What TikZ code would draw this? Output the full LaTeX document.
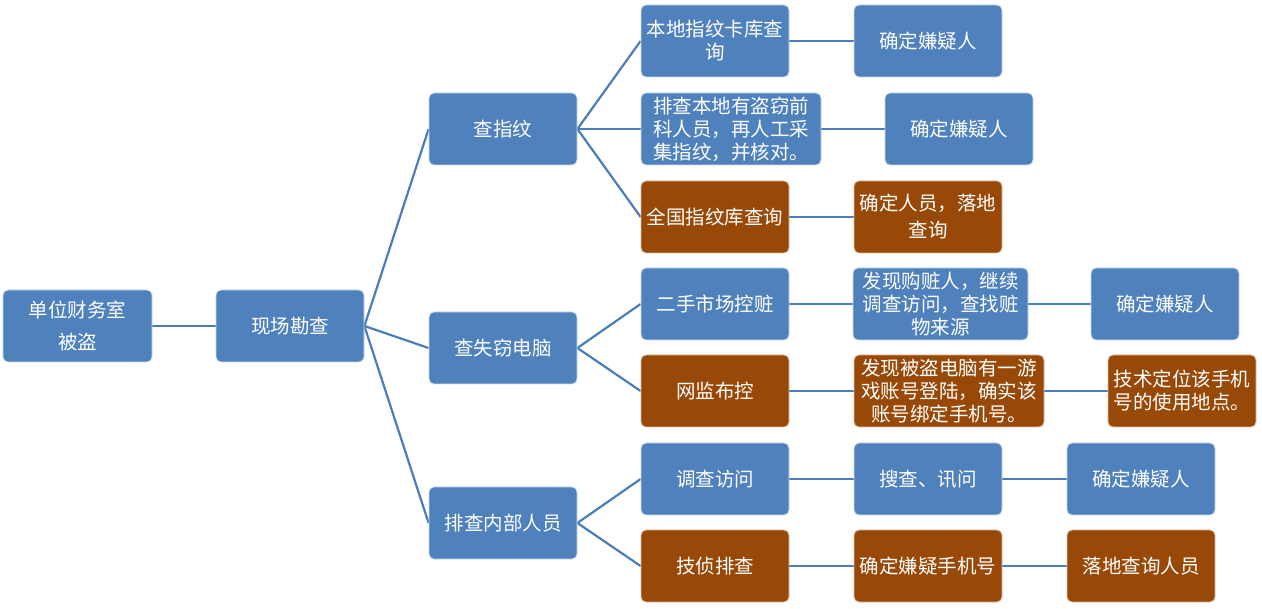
\documentclass[tikz,border=0pt]{standalone}
\usepackage{fontspec}
\setmainfont{Noto Sans CJK SC}
\usepackage{tikz}
\usetikzlibrary{backgrounds}
\usepackage{xcolor}
\definecolor{boxblue}{HTML}{4F81BD}
\definecolor{boxbrown}{HTML}{984807}
\definecolor{linkblue}{HTML}{4A7EBB}
\tikzstyle{tree}=[
  x=1pt,y=-1pt,font=\fontsize{19.5}{23}\selectfont
]
\tikzstyle{stepnode}=[
  draw=white!70!boxblue,line width=0.8pt,rounded corners=5pt,fill=boxblue,text=white,
  minimum width=148pt,minimum height=72pt,inner sep=0pt,align=center
]
\tikzstyle{leadnode}=[
  stepnode,fill=boxbrown,draw=white!65!boxbrown
]
\tikzstyle{link}=[
  line width=2.2pt,draw=linkblue
]

\begin{document}
\begin{tikzpicture}[tree]
  \useasboundingbox (0,0) rectangle (1262,609);
  % root and scene
  \node (root) at (77.5,326) [stepnode,minimum width=149pt,font=\fontsize{19.5}{32}\selectfont] {单位财务室\\被盗};
  \node (scene) at (290,326) [stepnode] {现场勘查};
  % three lines of inquiry
  \node (fp) at (503,129) [stepnode] {查指纹};
  \node (pc) at (503,348) [stepnode] {查失窃电脑};
  \node (staff) at (503,523) [stepnode] {排查内部人员};
  % fingerprints
  \node (fpa) at (715,41) [stepnode] {本地指纹卡库查\\询};
  \node (fpb) at (731,129) [stepnode,minimum width=180pt] {排查本地有盗窃前\\科人员，再人工采\\集指纹，并核对。};
  \node (fpc) at (715,217) [leadnode] {全国指纹库查询};
  \node (fpa2) at (928,41) [stepnode] {确定嫌疑人};
  \node (fpb2) at (959,129) [stepnode] {确定嫌疑人};
  \node (fpc2) at (928,217) [leadnode,font=\fontsize{19.5}{27}\selectfont] {确定人员，落地\\查询};
  % stolen computer
  \node (pca) at (715,304) [stepnode] {二手市场控赃};
  \node (pcb) at (715,391) [leadnode] {网监布控};
  \node (pca2) at (940.5,304) [stepnode,minimum width=175pt] {发现购赃人，继续\\调查访问，查找赃\\物来源};
  \node (pcb2) at (949,391) [leadnode,minimum width=190pt] {发现被盗电脑有一游\\戏账号登陆，确实该\\账号绑定手机号。};
  \node (pca3) at (1165,304) [stepnode] {确定嫌疑人};
  \node (pcb3) at (1182,391) [leadnode] {技术定位该手机\\号的使用地点。};
  % internal staff
  \node (sta) at (715,479) [stepnode] {调查访问};
  \node (stb) at (715,566) [leadnode] {技侦排查};
  \node (sta2) at (928,479) [stepnode] {搜查、讯问};
  \node (stb2) at (928,566) [leadnode] {确定嫌疑手机号};
  \node (sta3) at (1141,479) [stepnode] {确定嫌疑人};
  \node (stb3) at (1141,566) [leadnode] {落地查询人员};
  \begin{scope}[on background layer]
    \draw [link] (root.east) -- (scene.west);
    \draw [link] (scene.east) -- (fp.west);
    \draw [link] (scene.east) -- (pc.west);
    \draw [link] (scene.east) -- (staff.west);
    \draw [link] (fp.east) -- (fpa.west);
    \draw [link] (fp.east) -- (fpb.west);
    \draw [link] (fp.east) -- (fpc.west);
    \draw [link] (pc.east) -- (pca.west);
    \draw [link] (pc.east) -- (pcb.west);
    \draw [link] (staff.east) -- (sta.west);
    \draw [link] (staff.east) -- (stb.west);
    \draw [link] (fpa.east) -- (fpa2.west);
    \draw [link] (fpb.east) -- (fpb2.west);
    \draw [link] (fpc.east) -- (fpc2.west);
    \draw [link] (pca.east) -- (pca2.west);
    \draw [link] (pcb.east) -- (pcb2.west);
    \draw [link] (pca2.east) -- (pca3.west);
    \draw [link] (pcb2.east) -- (pcb3.west);
    \draw [link] (sta.east) -- (sta2.west);
    \draw [link] (stb.east) -- (stb2.west);
    \draw [link] (sta2.east) -- (sta3.west);
    \draw [link] (stb2.east) -- (stb3.west);
  \end{scope}
\end{tikzpicture}
\end{document}
